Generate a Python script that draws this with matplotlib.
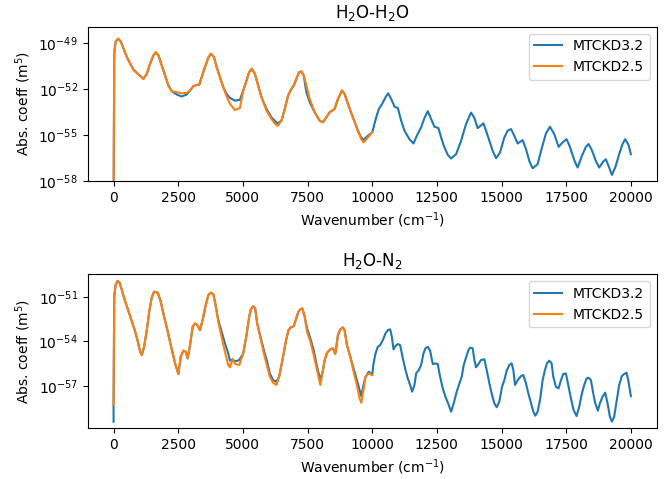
import numpy as np
import matplotlib
matplotlib.use("Agg")
import matplotlib.pyplot as plt
from matplotlib.ticker import NullLocator, FixedLocator

# ---------------- H2O-H2O (log10 of abs. coeff) ----------------
hh_wn = [0, 26, 77, 180, 283, 386, 514, 643, 771, 964, 1157, 1285, 1414, 1542, 1632,
         1735, 1864, 1992, 2121, 2249, 2442, 2635, 2828, 2956, 3085, 3188, 3316, 3406,
         3535, 3663, 3766, 3882, 3984, 4113, 4241, 4370, 4499, 4691, 4884, 5013, 5141,
         5244, 5347, 5463, 5591, 5720, 5913, 6105, 6234, 6337, 6491, 6619, 6748, 6876,
         6966, 7069, 7172, 7262, 7352, 7455, 7583, 7776, 7969, 8098, 8226, 8355, 8547,
         8676, 8830, 8933, 9061, 9254, 9447, 9575, 9665, 9832, 9999]
hh_v32 = [-60, -49.70, -48.93, -48.72, -48.93, -49.37, -49.92, -50.35, -50.75, -51.05,
          -51.34, -51.01, -50.35, -49.81, -49.61, -49.81, -50.46, -51.12, -51.77, -52.14,
          -52.36, -52.49, -52.36, -52.10, -51.82, -51.75, -51.71, -51.23, -50.57, -49.96,
          -49.70, -49.92, -50.57, -51.23, -51.88, -52.32, -52.58, -52.76, -52.71, -52.10,
          -51.45, -50.90, -50.68, -51.01, -51.77, -52.54, -53.30, -53.85, -54.07, -54.24,
          -54.07, -53.30, -52.43, -51.99, -51.77, -51.34, -50.90, -50.86, -51.12, -52.21,
          -52.86, -53.52, -54.07, -54.17, -53.85, -53.52, -53.30, -52.65, -52.10, -52.32,
          -52.97, -53.85, -54.72, -55.16, -55.31, -55.05, -54.83]
hh_v25 = [-60, -49.70, -48.93, -48.72, -48.93, -49.37, -49.92, -50.35, -50.75, -51.05,
          -51.34, -51.01, -50.35, -49.81, -49.61, -49.81, -50.46, -51.12, -51.77, -52.14,
          -52.21, -52.28, -52.25, -52.10, -51.82, -51.75, -51.71, -51.23, -50.57, -49.96,
          -49.70, -49.92, -50.57, -51.23, -51.88, -52.49, -52.97, -53.37, -53.24, -52.10,
          -51.45, -50.90, -50.68, -51.01, -51.77, -52.54, -53.41, -53.96, -54.24, -54.41,
          -54.07, -53.30, -52.43, -51.99, -51.77, -51.34, -50.90, -50.86, -51.12, -51.77,
          -52.65, -53.52, -54.07, -54.17, -53.85, -53.52, -53.30, -52.65, -52.10, -52.32,
          -52.97, -53.85, -54.72, -55.27, -55.48, -55.16, -54.83]
hh_ext_wn = [10154, 10257, 10386, 10515, 10618, 10734, 10862, 10991, 11120, 11248, 11441,
             11596, 11725, 11892, 12021, 12149, 12278, 12407, 12561, 12664, 12793, 12921,
             13050, 13243, 13436, 13629, 13822, 13951, 14080, 14299, 14401, 14530, 14659,
             14788, 14942, 15109, 15238, 15367, 15495, 15624, 15817, 15946, 16075, 16203,
             16396, 16564, 16718, 16873, 17040, 17207, 17362, 17516, 17645, 17812, 17941,
             18108, 18263, 18366, 18494, 18648, 18777, 18932, 19035, 19163, 19266, 19395,
             19549, 19678, 19781, 19910, 20000]
hh_ext_v32 = [-53.85, -53.30, -52.97, -52.54, -52.28, -52.65, -53.15, -53.24, -54.07,
              -54.72, -55.27, -55.55, -55.05, -54.50, -53.89, -53.45, -53.96, -54.46,
              -54.55, -55.16, -55.81, -56.29, -56.53, -56.25, -55.38, -54.28, -53.54,
              -53.89, -54.55, -54.24, -54.72, -55.38, -56.03, -56.51, -56.14, -55.16,
              -54.72, -54.61, -55.05, -55.55, -55.33, -55.92, -56.69, -57.17, -56.90,
              -55.81, -54.90, -54.46, -54.94, -55.77, -55.48, -55.27, -55.77, -56.64,
              -57.12, -56.36, -55.77, -55.59, -55.99, -56.69, -57.12, -56.73, -56.58,
              -57.12, -57.60, -57.12, -56.25, -55.59, -55.27, -55.64, -56.25]

# ---------------- H2O-N2 (log10 of abs. coeff) ----------------
hn_wn = [0, 0.1, 26, 77, 154, 231, 321, 411, 540, 668, 797, 925, 1028, 1092, 1182, 1285,
         1388, 1478, 1568, 1709, 1825, 1954, 2082, 2211, 2378, 2506, 2596, 2699, 2789,
         2866, 2956, 3059, 3149, 3239, 3342, 3445, 3548, 3663, 3766, 3856, 3933, 4049,
         4177, 4306, 4434, 4499, 4601, 4704, 4858, 5013, 5141, 5244, 5308, 5398, 5475,
         5553, 5681, 5810, 5938, 6041, 6169, 6298, 6401, 6529, 6658, 6761, 6851, 6966,
         7043, 7146, 7223, 7300, 7390, 7480, 7609, 7738, 7866, 7995, 8098, 8162, 8252,
         8380, 8483, 8573, 8676, 8766, 8869, 8933, 9023, 9151, 9280, 9408, 9511, 9575,
         9665, 9743, 9871, 9999]
hn_v32 = [-59.43, -58.30, -51.00, -50.21, -49.94, -50.05, -50.55, -51.11, -51.78, -52.46,
          -53.13, -53.92, -54.71, -54.93, -54.37, -53.25, -51.90, -51.04, -50.66, -50.73,
          -51.33, -52.35, -53.25, -54.26, -55.49, -56.21, -55.04, -54.64, -54.70, -55.16,
          -54.26, -53.02, -52.80, -52.91, -53.25, -52.57, -51.67, -50.89, -50.73, -50.82,
          -51.45, -52.57, -53.36, -54.14, -54.82, -55.31, -55.22, -55.36, -55.27, -54.82,
          -53.58, -52.35, -51.85, -51.63, -51.79, -52.80, -53.69, -54.59, -55.38, -56.17,
          -56.62, -56.73, -56.39, -55.27, -54.03, -53.25, -53.07, -52.98, -52.57, -52.01,
          -51.85, -51.79, -52.35, -53.13, -53.81, -54.59, -55.71, -56.62, -55.94, -55.27,
          -54.78, -54.55, -54.48, -54.86, -53.58, -53.20, -53.07, -53.25, -54.26, -55.04,
          -55.83, -56.62, -57.29, -57.70, -56.95, -56.39, -56.05, -56.28]
hn_v25 = [-58.30, -58.30, -51.00, -50.21, -49.94, -50.05, -50.55, -51.11, -51.78, -52.46,
          -53.13, -53.92, -54.71, -54.93, -54.37, -53.25, -51.90, -51.04, -50.66, -50.73,
          -51.33, -52.35, -53.25, -54.26, -55.49, -56.21, -55.04, -54.64, -54.70, -55.16,
          -54.26, -53.02, -52.80, -52.91, -53.25, -52.57, -51.67, -50.89, -50.73, -50.82,
          -51.45, -52.69, -53.70, -54.71, -55.61, -55.76, -55.22, -55.54, -55.60, -54.82,
          -53.58, -52.35, -51.85, -51.63, -51.79, -52.80, -53.81, -54.82, -55.71, -56.39,
          -56.80, -56.95, -56.39, -55.27, -54.03, -53.25, -53.07, -52.98, -52.57, -52.01,
          -51.85, -51.79, -52.35, -53.36, -54.03, -54.93, -55.94, -56.95, -55.94, -55.27,
          -54.78, -54.55, -54.48, -54.86, -53.58, -53.20, -53.07, -53.25, -54.26, -55.04,
          -56.05, -56.95, -57.85, -58.14, -57.29, -56.39, -56.17, -56.28]
hn_ext_wn = [10051, 10129, 10219, 10309, 10412, 10515, 10605, 10695, 10759, 10824, 10901,
             10991, 11081, 11184, 11287, 11377, 11467, 11544, 11634, 11699, 11802, 11892,
             11982, 12059, 12149, 12239, 12342, 12445, 12535, 12625, 12728, 12831, 12934,
             13050, 13153, 13268, 13372, 13462, 13539, 13629, 13719, 13796, 13886, 13951,
             14015, 14105, 14208, 14337, 14427, 14530, 14633, 14723, 14813, 14916, 15019,
             15109, 15199, 15302, 15392, 15457, 15521, 15624, 15753, 15843, 15946, 16036,
             16139, 16229, 16306, 16396, 16499, 16589, 16679, 16757, 16847, 16937, 17001,
             17104, 17207, 17297, 17387, 17490, 17580, 17683, 17786, 17902, 18005, 18108,
             18198, 18288, 18366, 18456, 18546, 18623, 18726, 18803, 18906, 19009, 19099,
             19189, 19266, 19356, 19447, 19549, 19652, 19742, 19833, 19910, 20000]
hn_ext_v32 = [-55.49, -54.82, -54.37, -54.26, -53.92, -53.47, -53.25, -53.20, -53.69,
              -54.55, -54.32, -54.19, -54.26, -55.16, -55.94, -56.51, -56.95, -57.40,
              -56.95, -56.17, -55.94, -55.60, -54.82, -54.48, -54.37, -54.64, -55.54,
              -55.49, -55.54, -56.39, -57.17, -57.74, -58.18, -58.75, -58.18, -57.40,
              -56.84, -56.39, -55.60, -55.09, -54.59, -54.43, -54.48, -55.27, -55.76,
              -55.54, -55.27, -55.22, -55.94, -56.84, -57.63, -58.18, -58.45, -58.07,
              -57.07, -56.62, -55.99, -55.60, -55.49, -55.94, -56.95, -56.62, -56.35,
              -56.28, -56.84, -57.51, -58.18, -58.75, -59.02, -58.75, -57.85, -56.62,
              -55.94, -55.49, -55.31, -55.49, -56.39, -57.07, -57.18, -56.62, -56.21,
              -56.17, -56.95, -57.85, -58.64, -59.04, -58.41, -57.51, -56.95, -56.51,
              -56.46, -56.62, -57.51, -58.18, -58.68, -58.18, -57.74, -57.47, -58.18,
              -59.08, -59.42, -59.08, -58.07, -56.95, -56.35, -56.21, -56.12, -56.73,
              -57.70]

series_names = ["MTCKD3.2", "MTCKD2.5"]
titles = ["H$_2$O-H$_2$O", "H$_2$O-N$_2$"]
x_ticks = [0, 2500, 5000, 7500, 10000, 12500, 15000, 17500, 20000]

fig = plt.figure(figsize=(6.71, 4.79), dpi=100)
ax1 = fig.add_axes([0.1307, 0.622, 0.848, 0.322])
ax2 = fig.add_axes([0.1307, 0.1058, 0.848, 0.3215])

panels = [
    (ax1, hh_wn, hh_v32, hh_v25, hh_ext_wn, hh_ext_v32, (-58, -47.95), [-58, -55, -52, -49]),
    (ax2, hn_wn, hn_v32, hn_v25, hn_ext_wn, hn_ext_v32, (-59.87, -49.49), [-57, -54, -51]),
]

for i, (ax, wn, v32, v25, ewn, ev32, ylim, yt) in enumerate(panels):
    x32 = np.concatenate([wn, ewn])
    y32 = 10.0 ** np.concatenate([v32, ev32])
    ax.plot(x32, y32, color="#1f77b4", lw=1.5, label=series_names[0])
    ax.plot(wn, 10.0 ** np.array(v25), color="#ff7f0e", lw=1.5, label=series_names[1])
    ax.set_yscale("log")
    ax.set_ylim(10.0 ** ylim[0], 10.0 ** ylim[1])
    ax.set_xlim(-1000, 21000)
    ax.yaxis.set_major_locator(FixedLocator([10.0 ** t for t in yt]))
    ax.yaxis.set_minor_locator(NullLocator())
    ax.set_xticks(x_ticks)
    ax.set_title(titles[i])
    ax.set_xlabel("Wavenumber (cm$^{-1}$)")
    ax.set_ylabel("Abs. coeff (m$^5$)")
    ax.legend(loc="upper right")

fig.savefig("out.png", dpi=100)
